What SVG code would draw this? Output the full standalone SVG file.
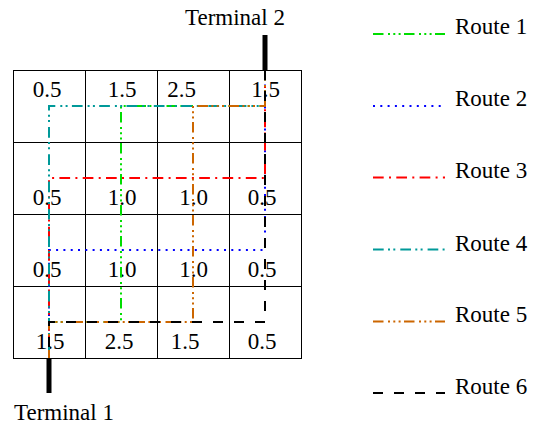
<svg xmlns="http://www.w3.org/2000/svg" width="542" height="426" viewBox="0 0 542 426" font-family="'Liberation Serif', 'DejaVu Serif', serif">
  <style>
    text { font-family: "Liberation Serif", "DejaVu Serif", serif; font-size: 23px; fill: #000; }
    .val { text-anchor: middle; }
    .grid { stroke: #000; stroke-width: 1; fill: none; }
    .term { stroke: #000; stroke-width: 5; }
    .r { fill: none; stroke-width: 2; stroke-linecap: butt; stroke-linejoin: miter; }
    .r1 { stroke: #00dd00; stroke-dasharray: 10.5 4.5 2 3.3 2 3.3 2 3.4; }
    .r2 { stroke: #0000ff; stroke-dasharray: 2 5.3; }
    .r3 { stroke: #ff0000; stroke-dasharray: 10.7 5.3 2 5.3; }
    .r4 { stroke: #009999; stroke-dasharray: 10.7 4.3 2 3.3 2 5; }
    .r5 { stroke: #cc6600; stroke-dasharray: 10.5 4.5 2 3.3 2 3.3 2 3.4; }
    .r6 { stroke: #000; stroke-dasharray: 10 11; }
  </style>

  <!-- 4x4 cost grid -->
  <g id="grid" class="grid">
    <rect x="13.5" y="70.5" width="288" height="288"/>
    <line x1="85.5" y1="70.5" x2="85.5" y2="358.5"/>
    <line x1="157.5" y1="70.5" x2="157.5" y2="358.5"/>
    <line x1="229.5" y1="70.5" x2="229.5" y2="358.5"/>
    <line x1="13.5" y1="142.5" x2="301.5" y2="142.5"/>
    <line x1="13.5" y1="214.5" x2="301.5" y2="214.5"/>
    <line x1="13.5" y1="286.5" x2="301.5" y2="286.5"/>
  </g>

  <!-- cell costs -->
  <g id="costs">
    <text class="val" x="47" y="97">0.5</text>
    <text class="val" x="122" y="97">1.5</text>
    <text class="val" x="181.5" y="97">2.5</text>
    <text class="val" x="265.5" y="97">1.5</text>

    <text class="val" x="47" y="205">0.5</text>
    <text class="val" x="122" y="205">1.0</text>
    <text class="val" x="193.5" y="205">1.0</text>
    <text class="val" x="262" y="205">0.5</text>

    <text class="val" x="47" y="277">0.5</text>
    <text class="val" x="122" y="277">1.0</text>
    <text class="val" x="193.5" y="277">1.0</text>
    <text class="val" x="262" y="277">0.5</text>

    <text class="val" x="50" y="349">1.5</text>
    <text class="val" x="119" y="349">2.5</text>
    <text class="val" x="185" y="349">1.5</text>
    <text class="val" x="262" y="349">0.5</text>
  </g>

  <!-- terminals -->
  <g id="terminal1">
    <line class="term" x1="49" y1="358" x2="49" y2="393"/>
    <text x="14" y="420">Terminal 1</text>
  </g>
  <g id="terminal2">
    <line class="term" x1="265" y1="35" x2="265" y2="70"/>
    <text x="185" y="25">Terminal 2</text>
  </g>

  <!-- routes from Terminal 2 to Terminal 1 -->
  <g id="routes">
    <path class="r r1" d="M265 70 V106 H121 V322 H49 V358"/>
    <path class="r r2" d="M265 70 V250 H49 V358"/>
    <path class="r r3" d="M265 70 V178 H49 V358"/>
    <path class="r r4" d="M265 70 V106 H49 V358"/>
    <path class="r r5" d="M265 70 V106 H193 V322 H49 V358"/>
    <path class="r r6" d="M265 70 V322 H49 V358"/>
  </g>

  <!-- legend -->
  <g id="legend">
    <g id="legend-route1">
      <line class="r r1" x1="373" y1="34" x2="445" y2="34"/>
      <text x="455" y="34">Route 1</text>
    </g>
    <g id="legend-route2">
      <line class="r r2" x1="373" y1="106" x2="445" y2="106"/>
      <text x="455" y="106">Route 2</text>
    </g>
    <g id="legend-route3">
      <line class="r r3" x1="373" y1="177.5" x2="445" y2="177.5"/>
      <text x="455" y="177.5">Route 3</text>
    </g>
    <g id="legend-route4">
      <line class="r r4" x1="373" y1="249.5" x2="445" y2="249.5"/>
      <text x="455" y="250.5">Route 4</text>
    </g>
    <g id="legend-route5">
      <line class="r r5" x1="373" y1="321.5" x2="445" y2="321.5"/>
      <text x="455" y="321.5">Route 5</text>
    </g>
    <g id="legend-route6">
      <line class="r r6" x1="373" y1="393" x2="445" y2="393"/>
      <text x="455" y="394">Route 6</text>
    </g>
  </g>
</svg>
